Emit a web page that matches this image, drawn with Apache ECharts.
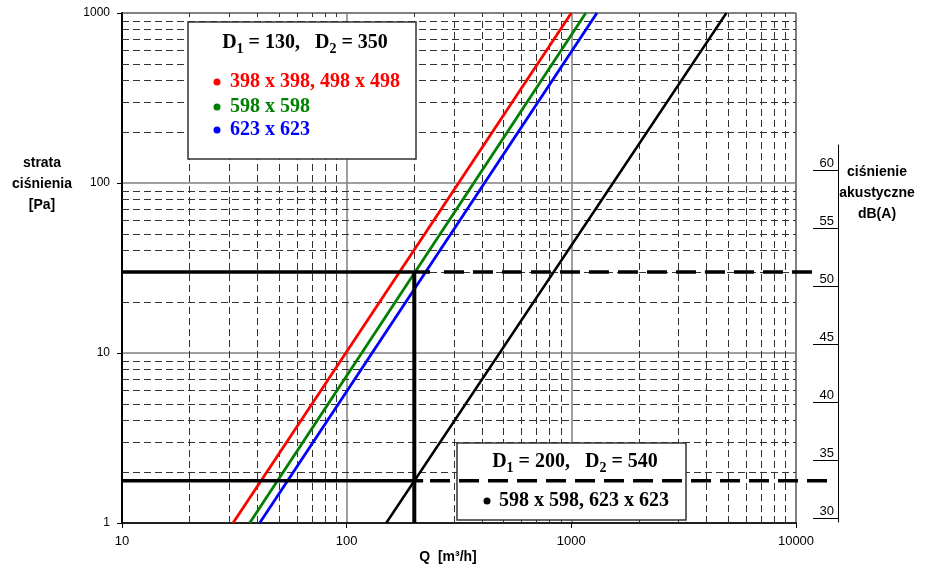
<!DOCTYPE html>
<html>
<head>
<meta charset="utf-8">
<script src="https://cdn.jsdelivr.net/npm/echarts@6/dist/echarts.min.js"></script>
<style>
html,body{margin:0;padding:0;background:#fff;}
#chart{width:936px;height:569px;}
</style>
</head>
<body>
<div id="chart"></div>
<script>
// ---- data ----
const xTicks = [10, 100, 1000, 10000];
const yTicks = [1, 10, 100, 1000];
const xMinorGrid = [20,30,40,50,60,70,80,90,200,300,400,500,600,700,800,900,2000,3000,4000,5000,6000,7000,8000,9000];
const yMinorGrid = [2,3,4,5,6,7,8,9,20,30,40,50,60,70,80,90,200,300,400,500,600,700,800,900];
const dbTicks = [30, 35, 40, 45, 50, 55, 60];

// pressure loss lines [Q, dp]
const redLine   = [[31.2, 1], [1000, 1000]];
const greenLine = [[37, 1], [1160, 1000]];
const blueLine  = [[41, 1], [1300, 1000]];
const blackLine = [[150, 1], [4900, 1000]];

// reading helper lines
const upperSolid  = [[10, 30], [235, 30]];
const upperDashed = [[271, 30], [11900, 30]];
const lowerSolid  = [[10, 1.77], [219, 1.77]];
const lowerDashed = [[235, 1.77], [13900, 1.77]];
const verticalQ   = [[200, 30], [200, 1]];

const legend1Title = ['D', '1', ' = 130,   D', '2', ' = 350'];
const legend1Items = ['398 x 398, 498 x 498', '598 x 598', '623 x 623'];
const legend1Colors = ['#ff0000', '#008000', '#0000ff'];
const legend2Title = ['D', '1', ' = 200,   D', '2', ' = 540'];
const legend2Item = '598 x 598, 623 x 623';

const chart = echarts.init(document.getElementById('chart'), null, {renderer: 'canvas'});
const fmt = v => String(Math.round(v));
const serif = '"Liberation Serif", "Times New Roman", serif';
const sans = '"Liberation Sans", Arial, sans-serif';

// plot geometry (main grid) and an extended overlay grid for lines reaching the dB scale
const plotLeft = 122, plotTop = 13, plotW = 674, plotH = 510;
const extW = 718;
const extMaxX = Math.pow(10, 1 + 3 * extW / plotW);

function richTitle(parts) {
  return '{t|' + parts[0] + '}{s|' + parts[1] + '}{t|' + parts[2] + '}{s|' + parts[3] + '}{t|' + parts[4] + '}';
}
const richStyles = {
  t: {fontFamily: serif, fontWeight: 'bold', fontSize: 20, lineHeight: 26, fill: '#000', verticalAlign: 'middle'},
  s: {fontFamily: serif, fontWeight: 'bold', fontSize: 14, lineHeight: 19, fill: '#000', verticalAlign: 'bottom'}
};

function lineSeries(data, color, width, type, z, axisIdx) {
  const ai = axisIdx || 0;
  return {
    type: 'line', xAxisIndex: ai, yAxisIndex: ai, data: data,
    showSymbol: false, symbol: 'none', clip: false, silent: true, z: z,
    lineStyle: {color: color, width: width, type: type || 'solid'},
    emphasis: {disabled: true}, animation: false
  };
}

const gridMarks = xMinorGrid.map(v => ({xAxis: v})).concat(yMinorGrid.map(v => ({yAxis: v})));

const option = {
  backgroundColor: '#fff',
  animation: false,
  grid: [
    {left: plotLeft, top: plotTop, width: plotW, height: plotH, show: true, borderColor: '#000', borderWidth: 1, backgroundColor: 'transparent'},
    {left: 838, top: 145, width: 1, bottom: 47, show: false},
    {left: plotLeft, top: plotTop, width: extW, height: plotH, show: false}
  ],
  xAxis: [
    {
      gridIndex: 0, type: 'log', logBase: 10, min: xTicks[0], max: xTicks[xTicks.length - 1],
      axisLine: {show: true, onZero: false, lineStyle: {color: '#000', width: 1.5}},
      axisTick: {show: true, length: 5, lineStyle: {color: '#000', width: 1}},
      axisLabel: {color: '#000', fontSize: 13, fontFamily: sans, margin: 12, formatter: fmt},
      splitLine: {show: true, lineStyle: {color: '#808080', width: 1.5}},
      minorTick: {show: false}, minorSplitLine: {show: false}
    },
    {gridIndex: 1, type: 'value', show: false, min: 0, max: 1},
    {gridIndex: 2, type: 'log', logBase: 10, min: xTicks[0], max: extMaxX, show: false,
     splitLine: {show: false}}
  ],
  yAxis: [
    {
      gridIndex: 0, type: 'log', logBase: 10, min: yTicks[0], max: yTicks[yTicks.length - 1],
      axisLine: {show: true, onZero: false, lineStyle: {color: '#000', width: 2}},
      axisTick: {show: true, length: 5, lineStyle: {color: '#000', width: 1}},
      axisLabel: {color: '#000', fontSize: 12, fontFamily: sans, margin: 12, formatter: fmt},
      splitLine: {show: true, lineStyle: {color: '#808080', width: 1.5}},
      minorTick: {show: false}, minorSplitLine: {show: false}
    },
    {
      gridIndex: 1, type: 'value', position: 'left', min: 29.655, max: 62.155,
      axisLine: {show: true, onZero: false, lineStyle: {color: '#000', width: 1}},
      axisTick: {show: true, length: 25, customValues: dbTicks, lineStyle: {color: '#000', width: 1}},
      axisLabel: {show: true, customValues: dbTicks, color: '#000', fontSize: 13, fontFamily: sans,
                  margin: 4, align: 'right', verticalAlign: 'bottom'},
      splitLine: {show: false}
    },
    {gridIndex: 2, type: 'log', logBase: 10, min: yTicks[0], max: yTicks[yTicks.length - 1], show: false,
     splitLine: {show: false}}
  ],
  series: [
    {
      type: 'line', xAxisIndex: 0, yAxisIndex: 0, data: [], silent: true, z: 1,
      markLine: {
        silent: true, symbol: 'none', animation: false, z: 1,
        label: {show: false},
        lineStyle: {color: '#333', width: 1, type: [7, 4]},
        emphasis: {disabled: true},
        data: gridMarks
      }
    },
    lineSeries(redLine, '#ff0000', 2.8, 'solid', 4),
    lineSeries(greenLine, '#008000', 2.8, 'solid', 4),
    lineSeries(blueLine, '#0000ff', 2.8, 'solid', 4),
    lineSeries(blackLine, '#000', 2.5, 'solid', 4),
    lineSeries(upperSolid, '#000', 3.5, 'solid', 6),
    lineSeries(upperDashed, '#000', 3.5, [20, 9], 6, 2),
    lineSeries(lowerSolid, '#000', 3.5, 'solid', 6),
    lineSeries(lowerDashed, '#000', 3.5, [20, 9], 6, 2),
    lineSeries(verticalQ, '#000', 4, 'solid', 6)
  ],
  graphic: {elements: [
    {type: 'text', x: 42, y: 184, z: 10, silent: true,
     style: {text: 'strata\nciśnienia\n[Pa]', fill: '#000', fontFamily: sans, fontWeight: 'bold', fontSize: 14,
             lineHeight: 21, align: 'center', verticalAlign: 'middle'}},
    {type: 'text', x: 877, y: 193, z: 10, silent: true,
     style: {text: 'ciśnienie\nakustyczne\ndB(A)', fill: '#000', fontFamily: sans, fontWeight: 'bold', fontSize: 14,
             lineHeight: 21, align: 'center', verticalAlign: 'middle'}},
    {type: 'text', x: 448, y: 557, z: 10, silent: true,
     style: {text: 'Q  [m³/h]', fill: '#000', fontFamily: sans, fontWeight: 'bold', fontSize: 14,
             align: 'center', verticalAlign: 'middle'}},
    // legend box 1
    {type: 'rect', z: 10, silent: true, shape: {x: 188, y: 22, width: 228, height: 137},
     style: {fill: '#fff', stroke: '#333', lineWidth: 1.5}},
    {type: 'text', x: 305, y: 43, z: 11, silent: true,
     style: {text: richTitle(legend1Title), rich: richStyles, align: 'center', verticalAlign: 'middle'}},
    ...legend1Items.map((t, i) => ({type: 'circle', z: 11, silent: true,
       shape: {cx: 217, cy: [82, 107, 130][i], r: 3.5}, style: {fill: legend1Colors[i]}})),
    ...legend1Items.map((t, i) => ({type: 'text', x: 230, y: [82, 107, 130][i], z: 11, silent: true,
       style: {text: t, fill: legend1Colors[i], fontFamily: serif, fontWeight: 'bold', fontSize: 20,
               align: 'left', verticalAlign: 'middle'}})),
    // legend box 2
    {type: 'rect', z: 3, silent: true, shape: {x: 457, y: 443, width: 229, height: 77},
     style: {fill: '#fff', stroke: '#333', lineWidth: 1.5}},
    {type: 'text', x: 575, y: 462, z: 3, silent: true,
     style: {text: richTitle(legend2Title), rich: richStyles, align: 'center', verticalAlign: 'middle'}},
    {type: 'circle', z: 3, silent: true, shape: {cx: 487, cy: 501, r: 3.5}, style: {fill: '#000'}},
    {type: 'text', x: 499, y: 501, z: 3, silent: true,
     style: {text: legend2Item, fill: '#000', fontFamily: serif, fontWeight: 'bold', fontSize: 20,
             align: 'left', verticalAlign: 'middle'}}
  ]}
};
chart.setOption(option);
</script>
</body>
</html>
